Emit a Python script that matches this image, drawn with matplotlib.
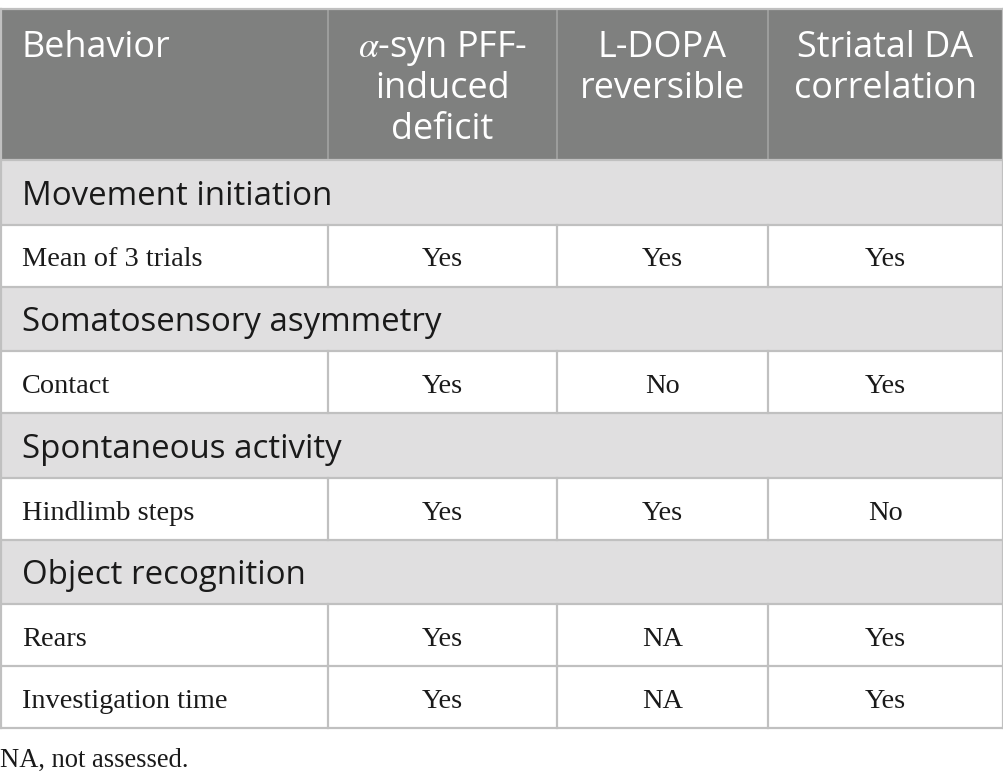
import matplotlib
matplotlib.use("Agg")
import matplotlib.pyplot as plt
from matplotlib.patches import Rectangle

plt.rcParams['mathtext.fontset'] = 'stix'

# ---- data ----
columns = [["Behavior"],
           ["$\\alpha$-syn PFF-", "induced", "deficit"],
           ["L-DOPA", "reversible"],
           ["Striatal DA", "correlation"]]
sections = ["Movement initiation", "Somatosensory asymmetry", "Spontaneous activity", "Object recognition"]
section_rows = [
    [["Mean of 3 trials", "Yes", "Yes", "Yes"]],
    [["Contact", "Yes", "No", "Yes"]],
    [["Hindlimb steps", "Yes", "Yes", "No"]],
    [["Rears", "Yes", "NA", "Yes"],
     ["Investigation time", "Yes", "NA", "Yes"]],
]
footnote = "NA, not assessed."

# ---- layout (pixels) ----
W, H = 1004, 784
DPI = 100
col_x = [0, 328, 557, 768, 1003]
top = 9
header_h = 151
section_h = 64.5
row_h = 62
HEADER_BG = "#7f807f"
SECTION_BG = "#e0dfe0"
LINE = "#c0c0c0"
TXT = "#1a1a1a"
pad = 22

def px2pt(px):
    return px * 72 / DPI

fig = plt.figure(figsize=(W / DPI, H / DPI), dpi=DPI)
ax = fig.add_axes([0, 0, 1, 1])
ax.set_xlim(0, W)
ax.set_ylim(H, 0)
ax.axis("off")

x0, x1 = col_x[0], col_x[-1]
# header
ax.add_patch(Rectangle((x0, top), x1 - x0, header_h, facecolor=HEADER_BG, edgecolor="none"))
for i, lines in enumerate(columns):
    for k, line in enumerate(lines):
        yb = top + 48 + 41 * k
        if i == 0:
            ax.text(col_x[0] + pad, yb, line, ha="left", va="baseline", color="white",
                    fontsize=px2pt(36), family="Open Sans")
        else:
            cx = (col_x[i] + col_x[i + 1]) / 2
            ax.text(cx, yb, line, ha="center", va="baseline", color="white",
                    fontsize=px2pt(36), family="Open Sans")
for xv in col_x[1:-1]:
    ax.plot([xv, xv], [top, top + header_h], color="#a3a3a3", lw=1.2)

y = top + header_h
hlines = [top, y]
vsegs = []
for sec, rows in zip(sections, section_rows):
    ax.add_patch(Rectangle((x0, y), x1 - x0, section_h, facecolor=SECTION_BG, edgecolor="none"))
    ax.text(col_x[0] + pad, y + 44.5, sec, ha="left", va="baseline", color=TXT,
            fontsize=px2pt(33), family="Open Sans")
    y += section_h
    hlines.append(y)
    for r in rows:
        for i, val in enumerate(r):
            if i == 0:
                ax.text(col_x[0] + pad, y + 42, val, ha="left", va="baseline",
                        color=TXT, fontsize=px2pt(28.4), family="Liberation Serif")
            else:
                cx = (col_x[i] + col_x[i + 1]) / 2
                ax.text(cx, y + 42, val, ha="center", va="baseline",
                        color=TXT, fontsize=px2pt(28.4), family="Liberation Serif")
        vsegs.append((y, y + row_h))
        y += row_h
        hlines.append(y)

for hy in hlines:
    ax.plot([x0, x1], [hy, hy], color=LINE, lw=1.6)
for (ya, yb) in vsegs:
    for xv in col_x[1:-1]:
        ax.plot([xv, xv], [ya, yb], color=LINE, lw=1.6)
# outer borders
ax.plot([x0 + 0.8, x0 + 0.8], [top, y], color=LINE, lw=1.6)
ax.plot([x1, x1], [top, y], color=LINE, lw=1.6)

ax.text(0, y + 39, footnote, ha="left", va="baseline", color=TXT,
        fontsize=px2pt(26.5), family="Liberation Serif")

fig.savefig("out.png", dpi=DPI, facecolor="white")
